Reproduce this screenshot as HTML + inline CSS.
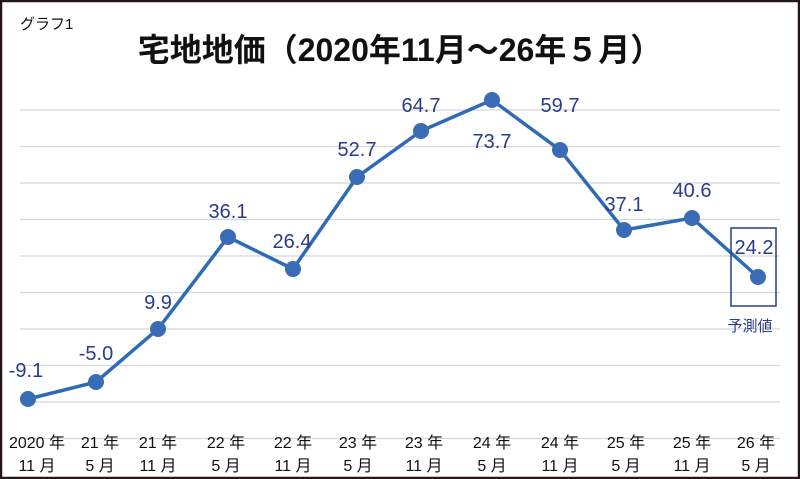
<!DOCTYPE html>
<html><head><meta charset="utf-8"><style>
body{margin:0;background:#fff}
svg{display:block}
text{font-family:"Liberation Sans","Noto Sans CJK JP",sans-serif}
</style></head><body>
<svg width="800" height="479" viewBox="0 0 800 479">
<rect x="1" y="1" width="798" height="477" fill="#fff" stroke="#231815" stroke-width="2.5"/>
<text x="20" y="29" font-size="15" fill="#111">グラフ1</text>
<text x="400" y="61" font-size="32" font-weight="bold" fill="#111" text-anchor="middle">宅地地価（2020年11月～26年５月）</text>
<g stroke="#d6d6d6" stroke-width="1.2">
<line x1="20" x2="780" y1="110" y2="110"/><line x1="20" x2="780" y1="146.5" y2="146.5"/>
<line x1="20" x2="780" y1="183" y2="183"/><line x1="20" x2="780" y1="219.5" y2="219.5"/>
<line x1="20" x2="780" y1="256" y2="256"/><line x1="20" x2="780" y1="292.5" y2="292.5"/>
<line x1="20" x2="780" y1="329" y2="329"/><line x1="20" x2="780" y1="365.5" y2="365.5"/>
<line x1="20" x2="780" y1="402" y2="402"/><line x1="20" x2="780" y1="438.5" y2="438.5"/>
</g>
<polyline fill="none" stroke="#2f6ab6" stroke-width="3.5" points="28,399 96,382 158,329 228,237 293,269 357,177 421,131 492,100 560,150 624,230 692,218 758,277"/>
<g fill="#3a6cb5">
<circle cx="28" cy="399" r="8"/><circle cx="96" cy="382" r="8"/><circle cx="158" cy="329" r="8"/><circle cx="228" cy="237" r="8"/><circle cx="293" cy="269" r="8"/><circle cx="357" cy="177" r="8"/><circle cx="421" cy="131" r="8"/><circle cx="492" cy="100" r="8"/><circle cx="560" cy="150" r="8"/><circle cx="624" cy="230" r="8"/><circle cx="692" cy="218" r="8"/><circle cx="758" cy="277" r="8"/>
</g>
<g fill="#2a3a8c" font-size="20" text-anchor="middle">
<text x="26" y="377">-9.1</text><text x="96" y="360">-5.0</text><text x="158" y="309">9.9</text>
<text x="228" y="218">36.1</text><text x="292" y="248">26.4</text><text x="357" y="156">52.7</text>
<text x="421" y="112">64.7</text><text x="492" y="148">73.7</text><text x="560" y="112">59.7</text>
<text x="624" y="211">37.1</text><text x="692" y="197">40.6</text><text x="754" y="254">24.2</text>
</g>
<rect x="731" y="228" width="45" height="78" fill="none" stroke="#2a3a8c" stroke-width="1.5"/>
<text x="750" y="331" font-size="15" fill="#2a3a8c" text-anchor="middle">予測値</text>
<g fill="#111" font-size="16" text-anchor="middle">
<text x="37" y="448">2020 年</text><text x="37" y="471">11 月</text>
<text x="100" y="448">21 年</text><text x="100" y="471">5 月</text>
<text x="158" y="448">21 年</text><text x="158" y="471">11 月</text>
<text x="226" y="448">22 年</text><text x="226" y="471">5 月</text>
<text x="293" y="448">22 年</text><text x="293" y="471">11 月</text>
<text x="358" y="448">23 年</text><text x="358" y="471">5 月</text>
<text x="424" y="448">23 年</text><text x="424" y="471">11 月</text>
<text x="492" y="448">24 年</text><text x="492" y="471">5 月</text>
<text x="560" y="448">24 年</text><text x="560" y="471">11 月</text>
<text x="626" y="448">25 年</text><text x="626" y="471">5 月</text>
<text x="692" y="448">25 年</text><text x="692" y="471">11 月</text>
<text x="756" y="448">26 年</text><text x="756" y="471">5 月</text>
</g>
</svg>
</body></html>
